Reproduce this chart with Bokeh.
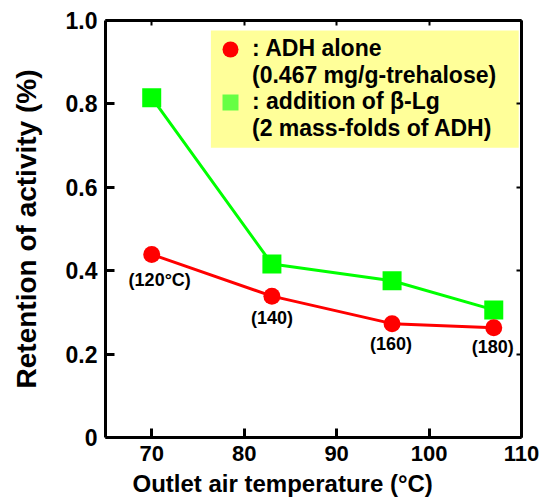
from bokeh.plotting import figure
from bokeh.models import LinearAxis, FixedTicker, Legend, LegendItem, Range1d, Title, BoxAnnotation
from bokeh.embed import file_html
from bokeh.resources import INLINE
from bokeh.core.properties import value

# ---- data ----
temps = [70, 83, 96, 107]                      # outlet air temperature (°C)
adh_alone = [0.439, 0.339, 0.273, 0.263]       # ADH alone
adh_blg = [0.815, 0.416, 0.376, 0.306]         # addition of beta-Lg
inlet_labels = ["(120°C)", "(140)", "(160)", "(180)"]
x_ticks = [70, 80, 90, 100, 110]
y_ticks = [0, 0.2, 0.4, 0.6, 0.8, 1.0]
y_tick_labels = ["0", "0.2", "0.4", "0.6", "0.8", "1.0"]
# leading blank line keeps the marker level with the first text line
legend_labels = ["\n: ADH alone\n(0.467 mg/g-trehalose)",
                 "\n: addition of β-Lg\n(2 mass-folds of ADH)"]
x_title = "Outlet air temperature (°C)"
y_title = "Retention of activity (%)"

# label offsets (pixels)
label_dx = [8, 0, -1, -1]
label_dy = [26, 22, 20, 19]

FONT = "Liberation Sans"

p = figure(width=545, height=504, x_range=Range1d(65, 110), y_range=Range1d(0, 1.0),
           output_backend="svg", toolbar_location=None,
           min_border_left=105, min_border_right=24, min_border_top=20, min_border_bottom=67)
p.outline_line_color = None
p.xgrid.visible = False
p.ygrid.visible = False
p.background_fill_color = "white"
p.border_fill_color = "white"

p.add_layout(LinearAxis(), "right")
p.add_layout(LinearAxis(), "above")

for ax in p.axis:
    ax.axis_line_width = 3
    ax.axis_line_color = "black"
    ax.major_tick_in = 9
    ax.major_tick_out = 0
    ax.major_tick_line_width = 3
    ax.minor_tick_line_color = None
    ax.major_label_text_font = FONT
    ax.major_label_text_font_style = "bold"
    ax.major_label_text_color = "black"

for ax in p.xaxis:
    ax.ticker = FixedTicker(ticks=x_ticks)
for ax in p.yaxis:
    ax.ticker = FixedTicker(ticks=y_ticks)
    ax.major_label_overrides = {t: s for t, s in zip(y_ticks, y_tick_labels)}

# mirrored axes: short inward ticks, no labels
for ax in (p.right[0], p.above[0]):
    ax.major_label_text_font_size = "0px"
    ax.major_label_text_color = None
    ax.major_tick_in = 5
    ax.major_tick_line_width = 2

xa = p.below[0]
xa.major_label_text_font_size = "22px"
xa.major_label_standoff = 8

ya = p.left[0]
ya.major_label_text_font_size = "23px"
ya.major_label_standoff = 8
ya.axis_label = y_title
ya.axis_label_text_font = FONT
ya.axis_label_text_font_style = "bold"
ya.axis_label_text_font_size = "28px"
ya.axis_label_text_color = "black"
ya.axis_label_standoff = 21

# x-axis title (offset to the left as in the original)
p.add_layout(Title(text=x_title, align="left", offset=27, standoff=9,
                   text_font=FONT, text_font_style="bold", text_font_size="24px",
                   text_color="black"), "below")

# ---- series ----
p.line(temps, adh_blg, line_color="#00FF00", line_width=3)
p.line(temps, adh_alone, line_color="#FF0000", line_width=3)
g_sc = p.scatter(temps, adh_blg, marker="square", size=19, fill_color="#00FF00", line_color=None)
r_sc = p.scatter(temps, adh_alone, marker="circle", size=17, fill_color="#FF0000", line_color=None)
# legend-only glyph (lighter green, zero size on the plot)
g_leg = p.scatter(temps, adh_blg, marker="square", size=0, fill_color="#66FF44", line_color=None)

p.text(x=temps, y=adh_alone, text=inlet_labels, x_offset=label_dx, y_offset=label_dy,
       text_align="center", text_baseline="middle", text_font=value(FONT),
       text_font_style="bold", text_font_size="18px", text_color="black")

# legend background box
p.add_layout(BoxAnnotation(left=76.4, right=109.7, top=0.976, bottom=0.695,
                           fill_color="#FFFF99", fill_alpha=1, line_color=None, level="underlay"))


def make_legend(label, renderer, loc):
    lg = Legend(items=[LegendItem(label=label, renderers=[renderer])], location=loc)
    lg.background_fill_alpha = 0
    lg.border_line_color = None
    lg.label_text_font = FONT
    lg.label_text_font_style = "bold"
    lg.label_text_font_size = "23px"
    lg.label_text_color = "black"
    lg.glyph_width = 40
    lg.glyph_height = 42
    lg.label_standoff = 2
    lg.padding = 6
    lg.margin = 0
    return lg


p.add_layout(make_legend(legend_labels[0], r_sc, (105, 348)))
p.add_layout(make_legend(legend_labels[1], g_leg, (105, 295)))

open("out.html", "w").write(file_html(p, INLINE))
